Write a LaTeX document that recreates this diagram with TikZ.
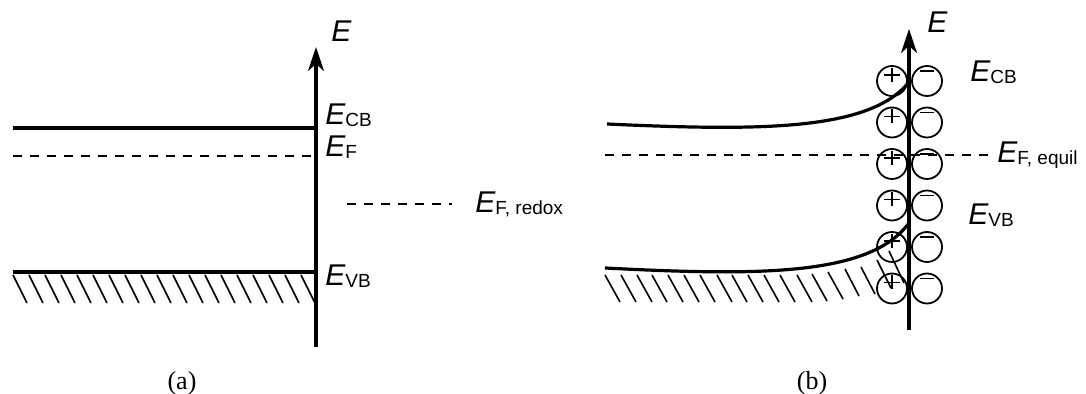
\documentclass[tikz,border=0pt]{standalone}
\usepackage{fontspec}
\setmainfont{Liberation Serif}
\newfontfamily\labfont{Liberation Sans}
\usetikzlibrary{arrows.meta}
\newcommand{\Ebig}{{\labfont\fontsize{15}{15}\selectfont\itshape E}}
\newcommand{\Elab}[1]{\Ebig\raisebox{-1pt}{\labfont\fontsize{9.5}{10}\selectfont #1}}
\tikzset{
  axisline/.style={line width=1.6pt,-{Stealth[length=12pt,width=8pt,inset=3.5pt]}},
  band/.style={line width=1.6pt},
  fermi/.style={line width=1.1pt,dash pattern=on 4.5pt off 4pt},
  hatchline/.style={line width=0.8pt},
  ion/.style={circle,draw,line width=0.9pt,minimum size=15pt,inner sep=0pt},
  sign/.style={line width=0.8pt},
  lbl/.style={anchor=base west,inner sep=0pt},
  panelcap/.style={inner sep=0pt,font=\fontsize{13}{15}\selectfont}
}
\begin{document}
\begin{tikzpicture}[x=0.5pt,y=-0.5pt]
\useasboundingbox (0,0) rectangle (1086,394);

% ---------- panel (a) ----------
\foreach \i in {0,...,18}
  \draw[hatchline] ({13+16*\i},275) -- ++(14,28);
\coordinate (acb0) at (13,128);  \coordinate (acb1) at (316,128);
\coordinate (aef0) at (13,156);  \coordinate (aef1) at (316,156);
\coordinate (avb0) at (13,272);  \coordinate (avb1) at (316,272);
\coordinate (ard0) at (347,204); \coordinate (ard1) at (452,204);
\draw[band] (acb0) -- (acb1);
\draw[fermi] (aef0) -- (aef1);
\draw[band] (avb0) -- (avb1);
\draw[fermi] (ard0) -- (ard1);
\coordinate (abot) at (316,347);
\coordinate (atop) at (316,47);
\draw[axisline] (abot) -- (atop);

\node[lbl] (aE) at (331,42) {\Ebig};
\node[lbl] (aECB) at (325,125) {\Elab{CB}};
\node[lbl] (aEF) at (325,157) {\Elab{F}};
\node[lbl] (aEredox) at (475,213) {\Elab{F, redox}};
\node[lbl] (aEVB) at (325,286) {\Elab{VB}};
\node[panelcap] (acap) at (182,383) {(a)};

% ---------- panel (b) ----------
\foreach \tx/\ty/\bx/\by in {605/275/620/302, 621/275/636/302, 637/275/652/302,
  652/275/667/302, 668/275/683/302, 684/275/699/302, 700/275/715/302,
  717/275/732/302, 732/275/747/302, 748/275/763/302, 764/275/779/302,
  780/275/795/302, 797/275/812/302, 812/274/827/301, 828/272/843/299,
  845/269/859/296, 861/267/875/294, 877/260/891/288, 889/251/904/283}
  \draw[hatchline] (\tx,\ty) -- (\bx,\by);

\coordinate (bcb0) at (607,124); \coordinate (bcb1) at (909,82);
\coordinate (bvb0) at (605,268); \coordinate (bvb1) at (909,223);
\coordinate (bef0) at (605,155); \coordinate (bef1) at (990,155);
\draw[band] (bcb0) .. controls (760,131) and (870,131) .. (bcb1);
\draw[band] (bvb0) .. controls (760,276) and (870,276) .. (bvb1);
\draw[fermi] (bef0) -- (bef1);

\foreach \k/\cy in {1/81, 2/122.5, 3/164, 4/205.5, 5/247, 6/288.5} {
  \node[ion] (pos\k) at (892,\cy) {};
  \node[ion] (neg\k) at (927,\cy) {};
  \draw[sign] (884,\cy-6) -- (900,\cy-6) (892,\cy-13) -- (892,\cy+1);
  \draw[sign] (920,\cy-10) -- (934,\cy-10);
}

\coordinate (bbot) at (909,330);
\coordinate (btop) at (909,29);
\draw[axisline] (bbot) -- (btop);

\node[lbl] (bE) at (927,33) {\Ebig};
\node[lbl] (bECB) at (970,82) {\Elab{CB}};
\node[lbl] (bEF) at (997,163) {\Elab{F, equil}};
\node[lbl] (bEVB) at (968,225) {\Elab{VB}};
\node[panelcap] (bcap) at (812,383) {(b)};
\end{tikzpicture}
\end{document}
